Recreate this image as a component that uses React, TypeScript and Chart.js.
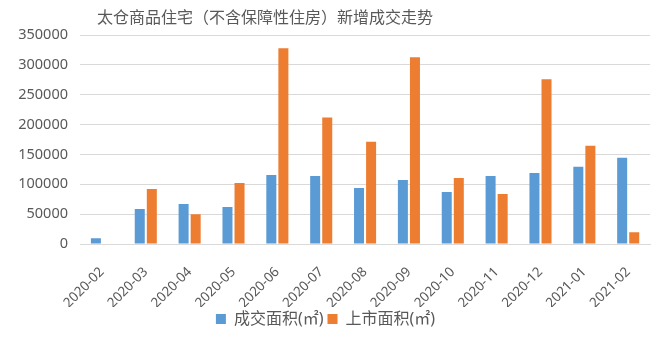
import React, { useEffect, useRef } from "react";
import { Chart, registerables } from "chart.js";

Chart.register(...registerables);

const titleText = "太仓商品住宅（不含保障性住房）新增成交走势";
const categories = [
  "2020-02", "2020-03", "2020-04", "2020-05", "2020-06", "2020-07", "2020-08",
  "2020-09", "2020-10", "2020-11", "2020-12", "2021-01", "2021-02",
];
const dealArea = [9600, 58500, 66900, 61800, 115700, 114000, 93800, 107300, 87100, 114000, 119100, 129200, 144400];
const listedArea = [0, 92200, 50000, 102300, 328000, 211800, 171400, 312900, 110700, 83700, 275800, 164600, 19700];
const seriesNames = ["成交面积(㎡)", "上市面积(㎡)"];
const yMax = 350000;
const yStep = 50000;

const FONT = "'Noto Sans', 'Noto Sans CJK SC', sans-serif";
const TEXT = "#595959";

const titlePlugin = {
  id: "offsetTitle",
  afterDraw(chart: any) {
    const ctx = chart.ctx;
    ctx.save();
    ctx.font = `16px 'Noto Sans CJK SC', sans-serif`;
    ctx.fillStyle = TEXT;
    ctx.textAlign = "center";
    ctx.textBaseline = "middle";
    ctx.fillText(titleText, 265, 17);
    ctx.restore();
  },
};

export default function App() {
  const ref = useRef<HTMLCanvasElement | null>(null);
  useEffect(() => {
    document.body.style.margin = "0";
    if (!ref.current) return;
    const chart = new Chart(ref.current, {
      type: "bar",
      data: {
        labels: categories,
        datasets: [
          { label: seriesNames[0], data: dealArea, backgroundColor: "#5B9BD5", barPercentage: 0.83, categoryPercentage: 0.55 },
          { label: seriesNames[1], data: listedArea, backgroundColor: "#ED7D31", barPercentage: 0.83, categoryPercentage: 0.55 },
        ],
      },
      options: {
        animation: false,
        responsive: false,
        maintainAspectRatio: false,
        layout: { padding: { top: 35, left: 0, right: 9, bottom: 0 } },
        plugins: {
          title: { display: false },
          tooltip: { enabled: false },
          legend: {
            position: "bottom",
            labels: {
              boxWidth: 10,
              boxHeight: 10,
              padding: 4,
              color: TEXT,
              font: { family: FONT, size: 16 },
            },
          },
        },
        scales: {
          x: {
            grid: { display: false, drawTicks: false },
            border: { display: true, color: "#d9d9d9", width: 1 },
            ticks: {
              color: TEXT,
              font: { family: FONT, size: 13.5 },
              minRotation: 45,
              maxRotation: 45,
              padding: 20,
              autoSkip: false,
            },
            afterFit(scale: any) {
              scale.height = 63;
            },
          },
          y: {
            min: 0,
            max: yMax,
            grid: { color: "#d9d9d9", lineWidth: 1, drawTicks: false },
            border: { display: false },
            ticks: {
              stepSize: yStep,
              color: TEXT,
              font: { family: FONT, size: 14.5 },
              padding: 12,
              callback: (v: any) => String(v),
            },
            afterFit(scale: any) {
              scale.width = 80;
            },
          },
        },
      },
      plugins: [titlePlugin],
    });
    return () => chart.destroy();
  }, []);
  return (
    <div style={{ width: 660, height: 337 }}>
      <canvas ref={ref} width={660} height={337} style={{ display: "block" }} />
    </div>
  );
}
